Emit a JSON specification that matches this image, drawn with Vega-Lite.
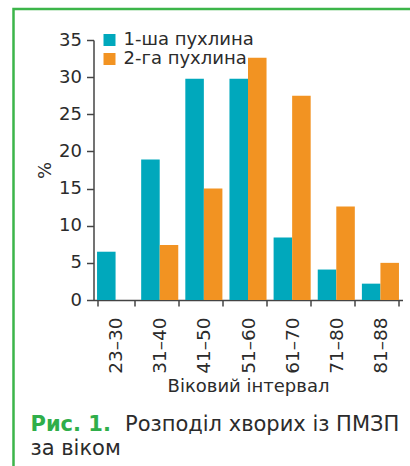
{
  "$schema": "https://vega.github.io/schema/vega-lite/v6.json",
  "width": 402,
  "height": 462,
  "autosize": {"type": "none"},
  "padding": {"left": 13.5, "top": 9, "right": -5.5, "bottom": -5},
  "background": "white",
  "config": {
    "view": {"stroke": "#3cb54a", "strokeWidth": 2.5},
    "font": "DejaVu Sans",
    "axis": {
      "domainColor": "#444444",
      "tickColor": "#444444",
      "domainWidth": 1.5,
      "tickWidth": 1.5,
      "labelColor": "#2b2b2b",
      "titleColor": "#2b2b2b",
      "labelFont": "DejaVu Sans",
      "titleFont": "DejaVu Sans",
      "labelFontSize": 18,
      "titleFontSize": 18,
      "titleFontWeight": "normal",
      "grid": false
    }
  },
  "title": {
    "text": "Рис. 1.",
    "subtitle": ["\u200b\u2003\u2003\u2003\u2003\u2002Розподіл хворих із ПМЗП", "за віком"],
    "orient": "bottom",
    "anchor": "start",
    "frame": "group",
    "offset": -57,
    "dx": 17,
    "font": "DejaVu Sans",
    "fontSize": 21,
    "fontWeight": "bold",
    "color": "#2fae4a",
    "subtitleFont": "DejaVu Sans",
    "subtitleFontSize": 21,
    "subtitleFontWeight": "normal",
    "subtitleColor": "#2b2b2b",
    "subtitlePadding": -21,
    "subtitleLineHeight": 24
  },
  "data": {
    "values": [
      {"age": "23–30", "series": "1-ша пухлина", "pct": 6.5},
      {"age": "31–40", "series": "1-ша пухлина", "pct": 18.9},
      {"age": "41–50", "series": "1-ша пухлина", "pct": 29.8},
      {"age": "51–60", "series": "1-ша пухлина", "pct": 29.8},
      {"age": "61–70", "series": "1-ша пухлина", "pct": 8.4},
      {"age": "71–80", "series": "1-ша пухлина", "pct": 4.1},
      {"age": "81–88", "series": "1-ша пухлина", "pct": 2.2},
      {"age": "23–30", "series": "2-га пухлина", "pct": 0},
      {"age": "31–40", "series": "2-га пухлина", "pct": 7.4},
      {"age": "41–50", "series": "2-га пухлина", "pct": 15.0},
      {"age": "51–60", "series": "2-га пухлина", "pct": 32.6},
      {"age": "61–70", "series": "2-га пухлина", "pct": 27.5},
      {"age": "71–80", "series": "2-га пухлина", "pct": 12.6},
      {"age": "81–88", "series": "2-га пухлина", "pct": 5.0}
    ]
  },
  "mark": {"type": "bar"},
  "encoding": {
    "x": {
      "field": "age",
      "type": "nominal",
      "sort": ["23–30", "31–40", "41–50", "51–60", "61–70", "71–80", "81–88"],
      "scale": {"range": [80, 389], "paddingInner": 0.16, "paddingOuter": 0.08},
      "axis": {
        "orient": "bottom",
        "offset": -171,
        "title": "Віковий інтервал",
        "titlePadding": 4,
        "labelAngle": -90,
        "labelAlign": "right",
        "labelBaseline": "middle",
        "labelPadding": 11,
        "labelFontSize": 18.5,
        "tickBand": "extent",
        "tickSize": 6
      }
    },
    "xOffset": {
      "field": "series",
      "type": "nominal",
      "sort": ["1-ша пухлина", "2-га пухлина"],
      "scale": {"paddingInner": 0}
    },
    "y": {
      "field": "pct",
      "type": "quantitative",
      "scale": {"domain": [0, 35], "range": [291, 31], "nice": false, "zero": true},
      "axis": {
        "orient": "left",
        "offset": -80,
        "values": [0, 5, 10, 15, 20, 25, 30, 35],
        "title": "%",
        "titlePadding": 4,
        "tickSize": 7,
        "labelPadding": 5
      }
    },
    "color": {
      "field": "series",
      "type": "nominal",
      "scale": {"domain": ["1-ша пухлина", "2-га пухлина"], "range": ["#00a8bc", "#f29322"]},
      "legend": {
        "orient": "none",
        "legendX": 87,
        "legendY": 22,
        "title": null,
        "symbolType": "square",
        "symbolSize": 144,
        "symbolStrokeWidth": 0,
        "labelFontSize": 18,
        "labelFont": "DejaVu Sans",
        "labelColor": "#2b2b2b",
        "labelOffset": 5,
        "rowPadding": 1,
        "padding": 0
      }
    }
  }
}
